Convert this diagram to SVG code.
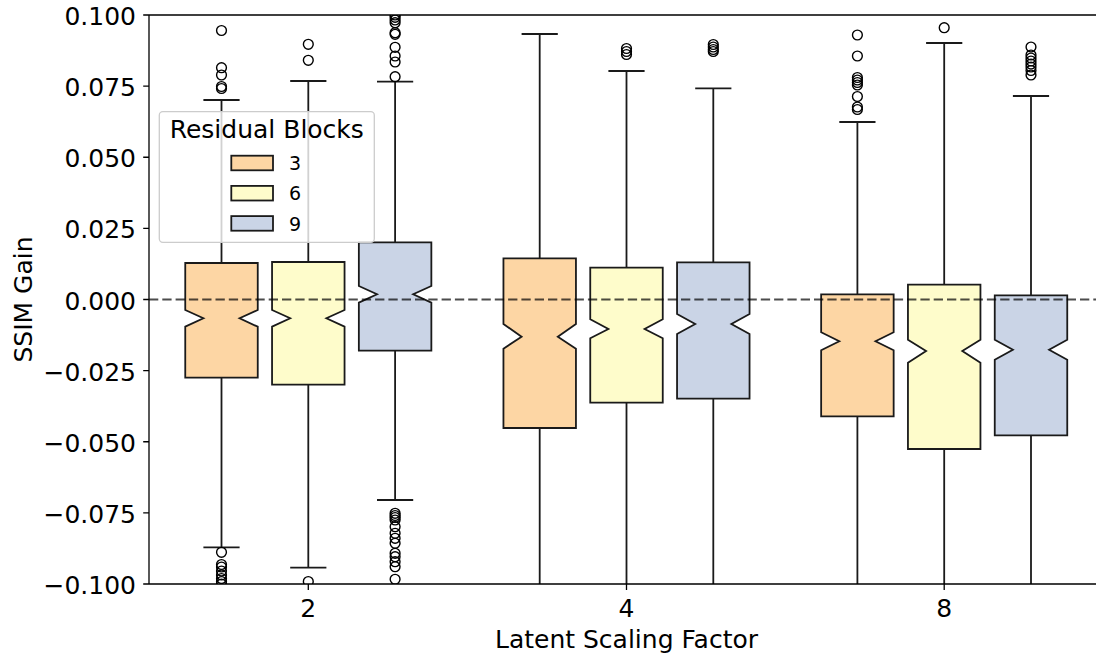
<svg xmlns="http://www.w3.org/2000/svg" width="1096" height="654" viewBox="0 0 1096 654">
<defs>
<style>
text{font-family:"DejaVu Sans","Liberation Sans",sans-serif;fill:#000}
.tk{font-size:25px}
.yt{text-anchor:end}
.xt{text-anchor:middle}
.ax{stroke:#000;stroke-width:1.3;fill:none}
.bx{stroke:#1a1a1a;stroke-width:1.8;stroke-linejoin:miter}
.w{stroke:#1a1a1a;stroke-width:1.8;fill:none}
.o{fill:none;stroke:#000;stroke-width:1.4}
.c3{fill:#fdd6a4}.c6{fill:#fefccb}.c9{fill:#cad4e6}
</style>
<clipPath id="plot"><rect x="149" y="15" width="960" height="569"/></clipPath>
</defs>
<rect width="1096" height="654" fill="#fff"/>

<g clip-path="url(#plot)">
<g id="box-2-3">
<path class="w" d="M221.5 263V100M203.4 100H239.6M221.5 377.7V547.3M203.4 547.3H239.6"/>
<path class="bx c3" d="M185.25 377.7H257.75V326.7L239.6 318.3L257.75 310V263H185.25V310L203.4 318.3L185.25 326.7Z"/>
<g class="o"><circle cx="221.5" cy="30.5" r="4.9"/><circle cx="221.5" cy="67.7" r="4.9"/><circle cx="221.5" cy="75" r="4.9"/><circle cx="221.5" cy="86.5" r="4.9"/><circle cx="221.5" cy="88.5" r="4.9"/><circle cx="221.5" cy="552.3" r="4.9"/><circle cx="221.5" cy="564.5" r="4.9"/><circle cx="221.5" cy="567" r="4.9"/><circle cx="221.5" cy="571" r="4.9"/><circle cx="221.5" cy="575" r="4.9"/><circle cx="221.5" cy="578.5" r="4.9"/><circle cx="221.5" cy="581.5" r="4.9"/><circle cx="221.5" cy="584" r="4.9"/></g>
</g>
<g id="box-2-6">
<path class="w" d="M308.3 262V81M290.2 81H326.4M308.3 384.7V567.7M290.2 567.7H326.4"/>
<path class="bx c6" d="M272.05 384.7H344.55V326.7L326.4 318.3L344.55 310V262H272.05V310L290.2 318.3L272.05 326.7Z"/>
<g class="o"><circle cx="308.3" cy="44.3" r="4.9"/><circle cx="308.3" cy="60.3" r="4.9"/><circle cx="308.3" cy="581.5" r="4.9"/></g>
</g>
<g id="box-2-9">
<path class="w" d="M395.1 242.3V81.7M377 81.7H413.2M395.1 350.7V500M377 500H413.2"/>
<path class="bx c9" d="M358.85 350.7H431.35V302.7L413.2 294.3L431.35 286V242.3H358.85V286L377 294.3L358.85 302.7Z"/>
<g class="o"><circle cx="395.1" cy="15" r="4.9"/><circle cx="395.1" cy="17.3" r="4.9"/><circle cx="395.1" cy="20" r="4.9"/><circle cx="395.1" cy="22.7" r="4.9"/><circle cx="395.1" cy="32.7" r="4.9"/><circle cx="395.1" cy="34.3" r="4.9"/><circle cx="395.1" cy="47.3" r="4.9"/><circle cx="395.1" cy="56" r="4.9"/><circle cx="395.1" cy="62" r="4.9"/><circle cx="395.1" cy="76.7" r="4.9"/><circle cx="395.1" cy="513.3" r="4.9"/><circle cx="395.1" cy="515.5" r="4.9"/><circle cx="395.1" cy="517.5" r="4.9"/><circle cx="395.1" cy="520" r="4.9"/><circle cx="395.1" cy="526.7" r="4.9"/><circle cx="395.1" cy="533.3" r="4.9"/><circle cx="395.1" cy="538.3" r="4.9"/><circle cx="395.1" cy="543.3" r="4.9"/><circle cx="395.1" cy="553.3" r="4.9"/><circle cx="395.1" cy="556.7" r="4.9"/><circle cx="395.1" cy="561.7" r="4.9"/><circle cx="395.1" cy="566.7" r="4.9"/><circle cx="395.1" cy="579.3" r="4.9"/></g>
</g>

<g id="box-4-3">
<path class="w" d="M539.7 258.3V34M521.6 34H557.8M539.7 428V590"/>
<path class="bx c3" d="M503.45 428H575.95V348.7L557.8 336.7L575.95 324V258.3H503.45V324L521.6 336.7L503.45 348.7Z"/>
</g>
<g id="box-4-6">
<path class="w" d="M626.5 267.7V71M608.4 71H644.6M626.5 402.7V590"/>
<path class="bx c6" d="M590.25 402.7H662.75V338.3L644.6 329L662.75 319.3V267.7H590.25V319.3L608.4 329L590.25 338.3Z"/>
<g class="o"><circle cx="626.5" cy="48.5" r="4.9"/><circle cx="626.5" cy="51.5" r="4.9"/><circle cx="626.5" cy="54.5" r="4.9"/></g>
</g>
<g id="box-4-9">
<path class="w" d="M713.3 262.3V88.3M695.2 88.3H731.4M713.3 398.7V590"/>
<path class="bx c9" d="M677.05 398.7H749.55V334L731.4 324L749.55 314V262.3H677.05V314L695.2 324L677.05 334Z"/>
<g class="o"><circle cx="713.3" cy="44.5" r="4.9"/><circle cx="713.3" cy="47" r="4.9"/><circle cx="713.3" cy="49.5" r="4.9"/><circle cx="713.3" cy="51.5" r="4.9"/></g>
</g>

<g id="box-8-3">
<path class="w" d="M857.4 294.3V122M839.3 122H875.5M857.4 416.3V590"/>
<path class="bx c3" d="M821.15 416.3H893.65V350.3L875.5 341.3L893.65 332.3V294.3H821.15V332.3L839.3 341.3L821.15 350.3Z"/>
<g class="o"><circle cx="857.4" cy="35" r="4.9"/><circle cx="857.4" cy="56" r="4.9"/><circle cx="857.4" cy="77.5" r="4.9"/><circle cx="857.4" cy="80" r="4.9"/><circle cx="857.4" cy="82.5" r="4.9"/><circle cx="857.4" cy="85" r="4.9"/><circle cx="857.4" cy="96.5" r="4.9"/><circle cx="857.4" cy="107" r="4.9"/><circle cx="857.4" cy="109.5" r="4.9"/></g>
</g>
<g id="box-8-6">
<path class="w" d="M944.2 284.7V43M926.1 43H962.3M944.2 449V590"/>
<path class="bx c6" d="M907.95 449H980.45V362.7L962.3 351L980.45 339.7V284.7H907.95V339.7L926.1 351L907.95 362.7Z"/>
<g class="o"><circle cx="944.2" cy="27.7" r="4.9"/></g>
</g>
<g id="box-8-9">
<path class="w" d="M1031 295.3V96M1012.9 96H1049.1M1031 435.3V590"/>
<path class="bx c9" d="M994.75 435.3H1067.25V359.7L1049.1 349.7L1067.25 339.7V295.3H994.75V339.7L1012.9 349.7L994.75 359.7Z"/>
<g class="o"><circle cx="1031" cy="47" r="4.9"/><circle cx="1031" cy="55" r="4.9"/><circle cx="1031" cy="58" r="4.9"/><circle cx="1031" cy="61" r="4.9"/><circle cx="1031" cy="64" r="4.9"/><circle cx="1031" cy="67" r="4.9"/><circle cx="1031" cy="70.5" r="4.9"/><circle cx="1031" cy="75" r="4.9"/></g>
</g>
</g>

<g id="connectors">
<line x1="149" y1="299.5" x2="1096" y2="299.5" stroke="#000" stroke-opacity="0.7" stroke-width="2" stroke-dasharray="9.3 4"/>
</g>

<g id="axes">
<path class="ax" d="M149 15V584M149 584H1096M149 15H1096"/>
<path class="ax" d="M143.2 15H149M143.2 86.1H149M143.2 157.25H149M143.2 228.4H149M143.2 299.5H149M143.2 370.6H149M143.2 441.75H149M143.2 512.9H149M143.2 584H149"/>
<path class="ax" d="M308.3 584V590M626.5 584V590M944.2 584V590"/>
<g class="tk yt">
<text x="136" y="25">0.100</text>
<text x="136" y="96.1">0.075</text>
<text x="136" y="167.25">0.050</text>
<text x="136" y="238.4">0.025</text>
<text x="136" y="309.5">0.000</text>
<text x="136" y="380.6">−0.025</text>
<text x="136" y="451.75">−0.050</text>
<text x="136" y="522.9">−0.075</text>
<text x="136" y="594">−0.100</text>
</g>
<g class="tk xt">
<text x="308.3" y="616.5">2</text>
<text x="626.5" y="616.5">4</text>
<text x="944.2" y="616.5">8</text>
</g>
<text class="tk xt" x="626.5" y="647.5">Latent Scaling Factor</text>
<text class="tk xt" transform="translate(31.5 299.5) rotate(-90)">SSIM Gain</text>
</g>

<g id="legend">
<rect x="159.3" y="111.7" width="215" height="130.6" rx="3.5" fill="#fff" fill-opacity="0.8" stroke="#ccc" stroke-width="1.3"/>
<text class="tk xt" x="266.8" y="138.3">Residual Blocks</text>
<rect class="bx c3" x="231.3" y="155.7" width="41.7" height="14.6" stroke-width="1.5"/>
<rect class="bx c6" x="231.3" y="185.9" width="41.7" height="14.6" stroke-width="1.5"/>
<rect class="bx c9" x="231.3" y="216.1" width="41.7" height="14.6" stroke-width="1.5"/>
<text x="289" y="170.3" font-size="19">3</text>
<text x="289" y="200.3" font-size="19">6</text>
<text x="289" y="230.5" font-size="19">9</text>
</g>
</svg>
